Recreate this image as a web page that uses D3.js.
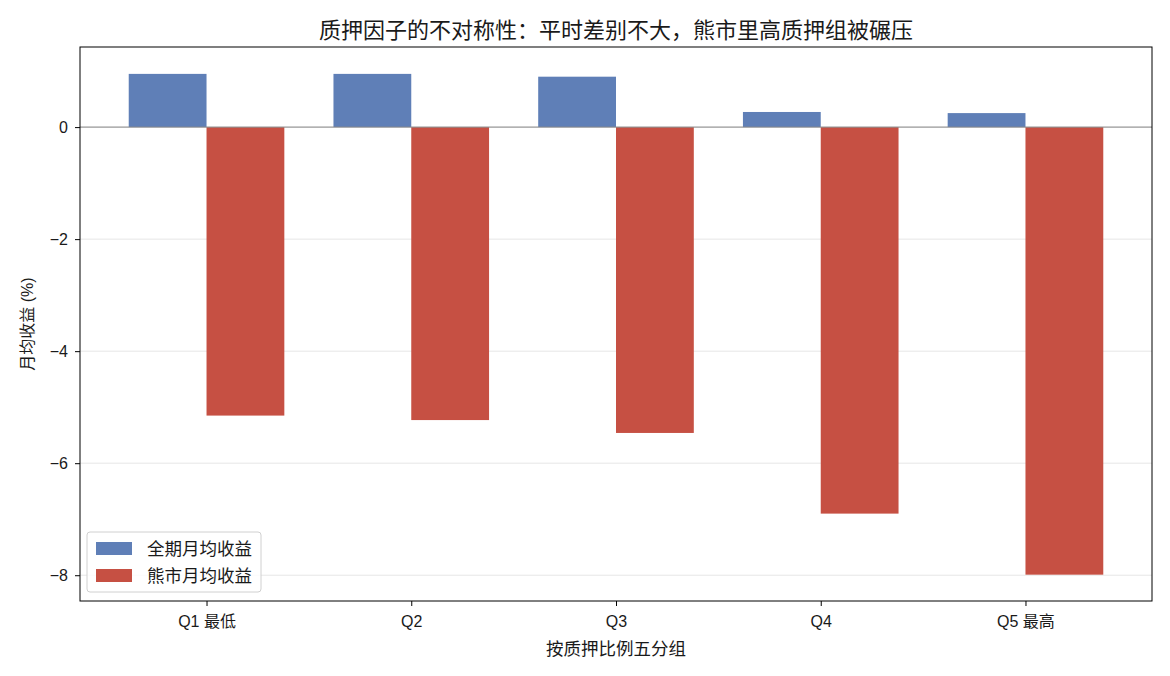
<!DOCTYPE html>
<html>
<head>
<meta charset="utf-8">
<script src="https://cdn.jsdelivr.net/npm/d3@7"></script>
<style>
  body { margin: 0; background: #fff; }
  text { font-family: "Liberation Sans", "Noto Sans CJK SC", sans-serif; fill: #1a1a1a; }
</style>
</head>
<body>
<div class="chart"></div>
<script>
// data
var groups     = ["Q1 最低", "Q2", "Q3", "Q4", "Q5 最高"];
var seriesName = ["全期月均收益", "熊市月均收益"];
var allPeriod  = [0.95, 0.95, 0.90, 0.27, 0.25];
var bearMarket = [-5.15, -5.23, -5.46, -6.90, -7.99];
var yTicks     = [0, -2, -4, -6, -8];
var colors     = ["#5f7fb7", "#c65043"];

(function(){
  var width  = 1170,
      height = 676,
      margin = {top: 47, right: 18, bottom: 75, left: 80};
  var w = width - margin.left - margin.right,
      h = height - margin.top - margin.bottom;
  var barW = 0.38;
  var fs = 16;

  var svg = d3.select(".chart").append("svg")
      .attr("width", width).attr("height", height);
  var g = svg.append("g")
      .attr("transform", "translate(" + margin.left + "," + margin.top + ")");

  // matplotlib-ish 5% padding
  var lo = -barW, hi = groups.length - 1 + barW, pad = (hi - lo) * 0.05;
  var x = d3.scaleLinear().domain([lo - pad, hi + pad]).range([0, w]);
  var y = d3.scaleLinear().domain([-8.46, 1.43]).range([h, 0]);

  // grid
  g.selectAll(".grid").data(yTicks).enter().append("line")
      .attr("x1", 0).attr("x2", w)
      .attr("y1", function(d){ return y(d); })
      .attr("y2", function(d){ return y(d); })
      .attr("stroke", "#e6e6e6").attr("stroke-width", 1);

  var series = [allPeriod, bearMarket];
  series.forEach(function(vals, s){
    g.selectAll(".bar" + s).data(vals).enter().append("rect")
      .attr("x", function(d, i){ return x(i + (s === 0 ? -barW : 0)); })
      .attr("width", x(barW) - x(0))
      .attr("y", function(d){ return y(Math.max(0, d)); })
      .attr("height", function(d){ return Math.abs(y(d) - y(0)); })
      .attr("fill", colors[s]);
  });

  // zero line
  g.append("line")
      .attr("x1", 0).attr("x2", w)
      .attr("y1", y(0)).attr("y2", y(0))
      .attr("stroke", "#888").attr("stroke-width", 1);

  // frame
  g.append("rect").attr("width", w).attr("height", h)
      .attr("fill", "none").attr("stroke", "#000").attr("stroke-width", 1);

  // axes
  var yAxis = g.append("g").call(d3.axisLeft(y).tickValues(yTicks).tickSize(5).tickPadding(7)
      .tickFormat(function(d){ return d < 0 ? "\u2212" + Math.abs(d) : d; }));
  var xAxis = g.append("g").attr("transform", "translate(0," + h + ")")
      .call(d3.axisBottom(x).tickValues(d3.range(groups.length)).tickSize(5).tickPadding(10)
      .tickFormat(function(d){ return groups[d]; }));
  [xAxis, yAxis].forEach(function(a){
    a.select(".domain").remove();
    a.selectAll("text").attr("font-size", fs).attr("fill", "#1a1a1a");
    a.selectAll("line").attr("stroke", "#000");
  });
  svg.selectAll(".tick text").attr("font-family", null);

  // titles
  svg.append("text").attr("x", margin.left + w / 2).attr("y", 38)
      .attr("text-anchor", "middle").attr("font-size", 22)
      .text("质押因子的不对称性：平时差别不大，熊市里高质押组被碾压");
  svg.append("text").attr("x", margin.left + w / 2).attr("y", 655)
      .attr("text-anchor", "middle").attr("font-size", 17.5)
      .text("按质押比例五分组");
  svg.append("text")
      .attr("transform", "translate(33," + (margin.top + h / 2) + ") rotate(-90)")
      .attr("text-anchor", "middle").attr("font-size", fs)
      .text("月均收益 (%)");

  // legend
  var lg = g.append("g").attr("transform", "translate(7,485)");
  lg.append("rect").attr("width", 174).attr("height", 60).attr("rx", 3)
      .attr("fill", "#fff").attr("fill-opacity", 0.8)
      .attr("stroke", "#d0d0d0");
  seriesName.forEach(function(n, i){
    lg.append("rect").attr("x", 9).attr("y", 10 + i * 27)
        .attr("width", 36).attr("height", 13).attr("fill", colors[i]);
    lg.append("text").attr("x", 60).attr("y", 23 + i * 27)
        .attr("font-size", 17.5).text(n);
  });
})();
</script>
</body>
</html>
